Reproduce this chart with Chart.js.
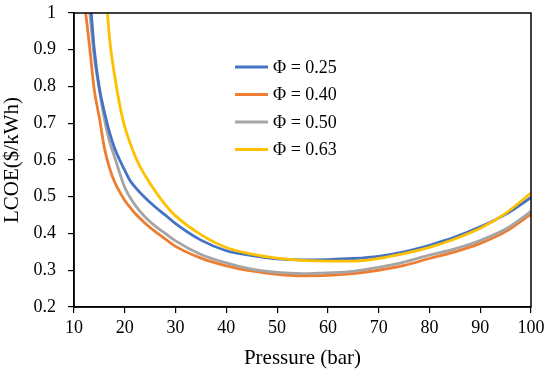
<!DOCTYPE html>
<html>
<head>
<meta charset="utf-8">
<script src="https://cdn.jsdelivr.net/npm/chart.js@4"></script>
<style>
  html, body { margin: 0; padding: 0; background: #fff; }
  #wrap { width: 550px; height: 375px; }
</style>
</head>
<body>
<div id="wrap"><canvas id="lcoeChart"></canvas></div>
<script>
// Pressure (bar) and LCOE ($/kWh), one pair of arrays per series
const pressure025 = [13.4, 14, 15, 16, 17, 18, 19, 20, 21, 22, 24, 26, 28, 30, 35, 40, 45, 50, 55, 60, 65, 70, 75, 80, 85, 90, 95, 100];
const lcoe025     = [1.0, 0.90, 0.795, 0.73, 0.675, 0.632, 0.60, 0.572, 0.545, 0.527, 0.497, 0.472, 0.45, 0.427, 0.382, 0.353, 0.340, 0.331, 0.328, 0.329, 0.332, 0.338, 0.35, 0.368, 0.39, 0.418, 0.452, 0.498];

const pressure040 = [12.3, 13, 14, 15, 16, 17, 18, 20, 21, 22, 24, 26, 28, 30, 35, 40, 45, 50, 55, 60, 65, 70, 75, 80, 85, 90, 95, 100];
const lcoe040     = [1.0, 0.917, 0.79, 0.715, 0.632, 0.578, 0.54, 0.49, 0.472, 0.455, 0.428, 0.405, 0.385, 0.365, 0.333, 0.312, 0.298, 0.289, 0.285, 0.286, 0.291, 0.300, 0.313, 0.332, 0.350, 0.373, 0.405, 0.453];

const pressure050 = [13.1, 14, 15, 16, 17, 18, 20, 22, 24, 26, 28, 30, 35, 40, 45, 50, 55, 60, 65, 70, 75, 80, 85, 90, 95, 100];
const lcoe050     = [1.0, 0.88, 0.79, 0.71, 0.65, 0.608, 0.525, 0.478, 0.445, 0.42, 0.40, 0.38, 0.343, 0.32, 0.303, 0.294, 0.291, 0.293, 0.297, 0.308, 0.322, 0.341, 0.358, 0.381, 0.412, 0.46];

const pressure063 = [16.6, 17, 18, 19, 20, 21, 22, 23, 24, 26, 28, 30, 35, 40, 45, 50, 55, 60, 65, 70, 75, 80, 85, 90, 95, 100];
const lcoe063     = [1.0, 0.93, 0.83, 0.75, 0.69, 0.648, 0.612, 0.582, 0.558, 0.515, 0.478, 0.448, 0.397, 0.362, 0.344, 0.333, 0.327, 0.325, 0.325, 0.332, 0.345, 0.362, 0.385, 0.414, 0.455, 0.51];

const seriesLabels = ['Φ = 0.25', 'Φ = 0.40', 'Φ = 0.50', 'Φ = 0.63'];
const seriesColors = ['#4472C4', '#ED7D31', '#A5A5A5', '#FFC000'];

const fontFamily = '"Liberation Serif", "Times New Roman", serif';

function toPoints(xs, ys) {
  return xs.map((x, i) => ({ x: x, y: ys[i] }));
}

// draws the frame round the plot area
const frameBox = {
  id: 'frameBox',
  afterDatasetsDraw(chart) {
    const { ctx, chartArea: a } = chart;
    ctx.save();
    ctx.strokeStyle = '#000';
    ctx.lineWidth = 1.5;
    ctx.strokeRect(a.left, a.top, a.right - a.left, a.bottom - a.top);
    ctx.restore();
  }
};

// legend inside the plot, stacked
const insideLegend = {
  id: 'insideLegend',
  afterDraw(chart) {
    const ctx = chart.ctx;
    ctx.save();
    ctx.font = '18px ' + fontFamily;
    ctx.textBaseline = 'middle';
    chart.data.datasets.forEach((ds, i) => {
      const y = 67 + i * 27.5;
      ctx.strokeStyle = ds.borderColor;
      ctx.lineWidth = 3;
      ctx.beginPath();
      ctx.moveTo(235, y);
      ctx.lineTo(268, y);
      ctx.stroke();
      ctx.fillStyle = '#000';
      ctx.fillText(ds.label, 273, y + 1);
    });
    ctx.restore();
  }
};

const datasets = [
  toPoints(pressure025, lcoe025),
  toPoints(pressure040, lcoe040),
  toPoints(pressure050, lcoe050),
  toPoints(pressure063, lcoe063)
].map((pts, i) => ({
  label: seriesLabels[i],
  data: pts,
  borderColor: seriesColors[i],
  backgroundColor: seriesColors[i],
  borderWidth: 2.8,
  pointRadius: 0,
  fill: false,
  cubicInterpolationMode: 'monotone'
}));

// draw order so orange sits on top of gray like the figure
const drawOrder = [3, 0, 2, 1];
datasets.forEach((ds, i) => { ds.order = drawOrder.indexOf(i); });

new Chart(document.getElementById('lcoeChart'), {
  type: 'line',
  data: { datasets: datasets },
  options: {
    responsive: true,
    maintainAspectRatio: false,
    animation: false,
    layout: { padding: { top: 13, right: 19, left: 0, bottom: 0 } },
    plugins: {
      legend: { display: false },
      tooltip: { enabled: false }
    },
    scales: {
      x: {
        type: 'linear',
        min: 10,
        max: 100,
        afterFit: s => { s.height = 68; },
        ticks: {
          stepSize: 10,
          color: '#000',
          padding: 4,
          font: { family: fontFamily, size: 18 }
        },
        grid: { drawOnChartArea: false, drawTicks: true, tickLength: 6, color: '#000', lineWidth: 1.2 },
        border: { color: '#000', width: 1.5 },
        title: {
          display: true,
          text: 'Pressure (bar)',
          color: '#000',
          padding: { top: 0 },
          font: { family: fontFamily, size: 21 }
        }
      },
      y: {
        min: 0.2,
        max: 1,
        afterFit: s => {
          s.width = 74;
          // keep the label overhang from pushing the plot down
          s.paddingTop = 0;
          s.paddingBottom = 0;
        },
        ticks: {
          stepSize: 0.1,
          color: '#000',
          padding: 12,
          font: { family: fontFamily, size: 18 },
          callback: v => Math.round(v * 10) / 10
        },
        grid: { drawOnChartArea: false, drawTicks: true, tickLength: 6, color: '#000', lineWidth: 1.2 },
        border: { color: '#000', width: 1.5 },
        title: {
          display: true,
          text: 'LCOE($/kWh)',
          color: '#000',
          padding: { top: 0, bottom: 0 },
          font: { family: fontFamily, size: 21 }
        }
      }
    }
  },
  plugins: [frameBox, insideLegend]
});
</script>
</body>
</html>
